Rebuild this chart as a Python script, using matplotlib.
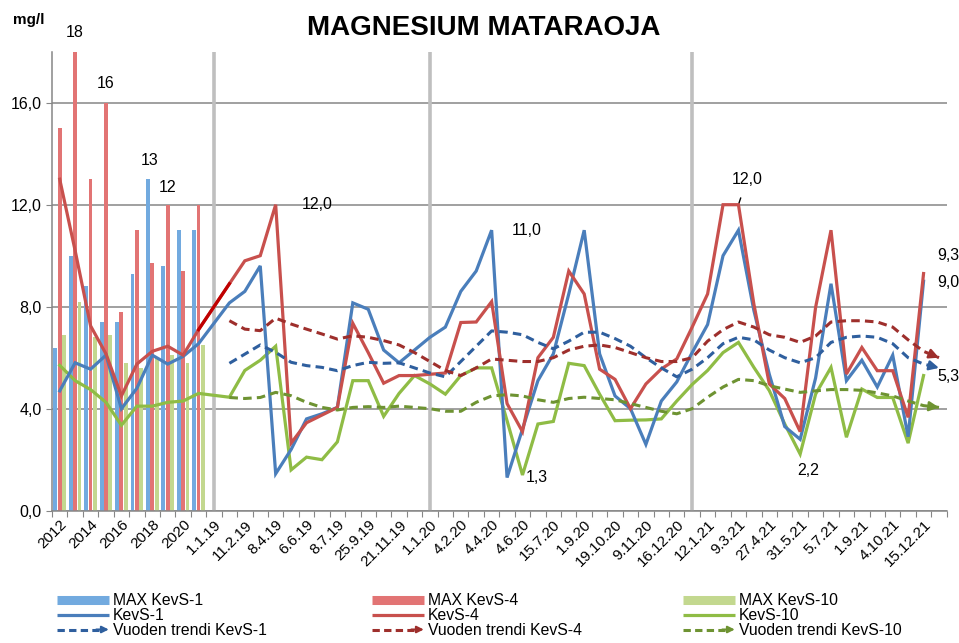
import numpy as np
import matplotlib
matplotlib.use('Agg')
import matplotlib.pyplot as plt
from matplotlib.lines import Line2D
from matplotlib.patches import FancyArrowPatch
from matplotlib.legend_handler import HandlerLine2D

plt.rcParams['font.family'] = ['Liberation Sans', 'DejaVu Sans']

nan = np.nan

# yearly bars (2012-2021)
years = ['2012', '2013', '2014', '2015', '2016', '2017', '2018', '2019', '2020', '2021']
max_kevs1 = [6.4, 10.0, 8.8, 7.4, 7.4, 9.3, 13.0, 9.6, 11.0, 11.0]
max_kevs4 = [15.0, 18.0, 13.0, 16.0, 7.8, 11.0, 9.7, 12.0, 9.4, 12.0]
max_kevs10 = [6.9, 8.2, 6.8, 6.9, 5.8, 5.6, 6.0, 6.1, 5.8, 6.5]

# every second category is labelled
tick_labels = ['2012', '2014', '2016', '2018', '2020', '1.1.19', '11.2.19', '8.4.19',
               '6.6.19', '8.7.19', '25.9.19', '21.11.19', '1.1.20', '4.2.20', '4.4.20',
               '4.6.20', '15.7.20', '1.9.20', '19.10.20', '9.11.20', '16.12.20', '12.1.21',
               '9.3.21', '27.4.21', '31.5.21', '5.7.21', '1.9.21', '4.10.21', '15.12.21']

kevs1 = [4.7, 5.8, 5.55, 6.1, 4.0, 4.8, 6.1, 5.75, 6.05, 6.55,
         nan, 8.15, 8.6, 9.6, 1.45, 2.4, 3.6, 3.8, 4.05, 8.15,
         7.9, 6.3, 5.8, 6.3, 6.8, 7.2, 8.6, 9.4, 11.0, 1.3,
         3.2, 5.1, 6.15, 8.5, 11.0, 6.15, 4.5, 4.0, 2.6, 4.3,
         5.05, 6.2, 7.3, 10.0, 11.0, 7.85, 5.35, 3.3, 2.8, 5.2,
         8.9, 5.1, 5.9, 4.85, 6.1, 2.9, 9.0, nan]

kevs4 = [13.0, 10.2, 7.25, 6.15, 4.5, 5.75, 6.25, 6.45, 6.1, 7.1,
         nan, 8.9, 9.8, 10.0, 12.0, 2.65, 3.45, 3.75, 4.05, 7.35,
         6.2, 5.0, 5.3, 5.3, 5.35, 5.4, 7.38, 7.4, 8.2, 4.2,
         3.1, 6.0, 6.8, 9.4, 8.5, 5.55, 5.15, 4.0, 4.97, 5.56,
         5.95, 7.2, 8.5, 12.0, 12.0, 8.1, 4.97, 4.4, 3.1, 7.97,
         11.0, 5.36, 6.4, 5.49, 5.49, 3.66, 9.3, nan]

kevs10 = [5.7, 5.1, 4.75, 4.25, 3.35, 4.1, 4.1, 4.25, 4.3, 4.6,
          nan, 4.45, 5.5, 5.9, 6.45, 1.6, 2.1, 2.0, 2.7, 5.1,
          5.1, 3.7, 4.6, 5.3, 4.97, 4.57, 5.3, 5.6, 5.6, 3.53,
          1.4, 3.4, 3.5, 5.78, 5.69, 4.57, 3.53, 3.55, 3.56, 3.6,
          4.3, 4.95, 5.5, 6.2, 6.6, 5.62, 4.71, 3.4, 2.22, 4.57,
          5.62, 2.88, 4.77, 4.44, 4.44, 2.65, 5.3, nan]

no_trend = [nan, nan, nan, nan, nan, nan, nan, nan, nan, nan, nan]

trend1 = no_trend + [5.78, 6.14, 6.5, 6.21, 5.82, 5.69, 5.62, 5.49, 5.69,
                     5.82, 5.78, 5.8, 5.6, 5.4, 5.25, 5.85, 6.45, 7.05, 7.0,
                     6.9, 6.6, 6.35, 6.65, 7.0, 7.0, 6.75, 6.45, 6.0, 5.6,
                     5.25, 5.55, 6.0, 6.55, 6.8, 6.7, 6.3, 6.0, 5.8, 6.0,
                     6.6, 6.8, 6.85, 6.8, 6.55, 6.0, 5.75, 5.6]

trend4 = no_trend + [7.45, 7.12, 7.06, 7.55, 7.32, 7.12, 6.93, 6.73, 6.86,
                     6.8, 6.67, 6.5, 6.2, 5.85, 5.5, 5.3, 5.6, 5.95, 5.9,
                     5.85, 5.85, 6.0, 6.3, 6.45, 6.5, 6.4, 6.2, 6.0, 5.85,
                     5.85, 6.0, 6.65, 7.1, 7.4, 7.2, 6.9, 6.8, 6.6, 6.85,
                     7.4, 7.45, 7.45, 7.4, 7.2, 6.7, 6.25, 6.0]

trend10 = no_trend + [4.44, 4.4, 4.44, 4.64, 4.51, 4.25, 4.05, 3.95, 4.05,
                      4.08, 4.05, 4.1, 4.05, 4.0, 3.9, 3.9, 4.25, 4.5, 4.55,
                      4.5, 4.35, 4.25, 4.4, 4.45, 4.4, 4.35, 4.2, 4.05, 3.9,
                      3.8, 4.0, 4.45, 4.85, 5.15, 5.1, 4.9, 4.77, 4.64, 4.7,
                      4.75, 4.75, 4.72, 4.62, 4.5, 4.3, 4.12, 4.05]

year_starts = [10, 24, 41]  # 1.1.19, 1.1.20, 1.1.21

c_bar = ['#72aadf', '#e27474', '#c3d88f']
c_line = ['#4a7ebb', '#c8504d', '#8fbc45']
c_trend = ['#2f5f9e', '#9e2f2c', '#6e9332']


class ArrowHandler(HandlerLine2D):
    def create_artists(self, legend, orig, xdescent, ydescent, width, height, fontsize, trans):
        y = height / 2 - ydescent
        x0, x1 = -xdescent, width - xdescent
        line = Line2D([x0, x1 - 7], [y, y], color=orig.get_color(),
                      lw=orig.get_linewidth(), dashes=(2.4, 1.4))
        head = FancyArrowPatch((x1 - 9, y), (x1, y), arrowstyle='-|>', mutation_scale=10,
                               color=orig.get_color(), lw=1.5, shrinkA=0, shrinkB=0)
        line.set_transform(trans)
        head.set_transform(trans)
        return [line, head]


def fmt(v):
    return ('%.1f' % v).replace('.', ',')


fig = plt.figure(figsize=(9.59, 6.43), dpi=100)
ax = fig.add_axes([52 / 959, 1 - 510.7 / 643, (946.7 - 52) / 959, 459 / 643])

n = len(kevs1)
x = np.arange(n)

ax.set_xlim(-0.5, n - 0.5)
ax.set_ylim(0, 18)
ax.set_yticks([0, 4, 8, 12, 16])
ax.set_yticklabels(['0,0', '4,0', '8,0', '12,0', '16,0'], fontsize=11.5)
ax.yaxis.grid(True, color='#868686', lw=1.1, zorder=0)
ax.set_axisbelow(True)
for s in ['top', 'right']:
    ax.spines[s].set_visible(False)
for s in ['left', 'bottom']:
    ax.spines[s].set_color('#868686')
    ax.spines[s].set_linewidth(1.1)

ax.set_xticks(np.arange(-0.5, n, 1))
ax.set_xticklabels([])
ax.set_xticks(np.arange(0, n, 2), tick_labels, minor=True)
ax.tick_params(axis='x', which='major', length=4, color='#868686')
ax.tick_params(axis='x', which='minor', length=0, pad=5, labelsize=11)
ax.tick_params(axis='y', length=4, color='#868686')
for lab in ax.get_xticklabels(minor=True):
    lab.set_rotation(45)
    lab.set_ha('right')
    lab.set_va('top')
    lab.set_rotation_mode('anchor')

for k in year_starts:
    ax.axvline(k, color='#bfbfbf', lw=2.6, zorder=1)

xb = np.arange(len(years))
ax.bar(xb - 0.28, max_kevs1, width=0.25, color=c_bar[0], zorder=2)
ax.bar(xb, max_kevs4, width=0.25, color=c_bar[1], zorder=2)
ax.bar(xb + 0.28, max_kevs10, width=0.25, color=c_bar[2], zorder=2)

for ys, c in zip([kevs10, kevs1, kevs4], [c_line[2], c_line[0], c_line[1]]):
    y = np.array(ys)
    m = ~np.isnan(y)
    ax.plot(x[m], y[m], color=c, lw=2.3, zorder=4, solid_joinstyle='miter')

# darker red piece where KevS-4 crosses the empty category
ax.plot([9, 11], [kevs4[9], kevs4[11]], color='#c00000', lw=2.3, zorder=4)

for ys, c in zip([trend10, trend1, trend4], [c_trend[2], c_trend[0], c_trend[1]]):
    y = np.array(ys)
    m = ~np.isnan(y)
    ax.plot(x[m], y[m], color=c, lw=2.2, dashes=(2.8, 1.7), zorder=5)
    ax.annotate('', xy=(x[-1], y[-1]), xytext=(x[-1] - 0.6, y[-1] - 0.6 * (y[-1] - y[-2])),
                arrowprops=dict(arrowstyle='-|>', color=c, lw=1.8, mutation_scale=14,
                                shrinkA=0, shrinkB=0), zorder=5)

# value labels
lab_kw = dict(textcoords='offset points', fontsize=11.5, ha='center', va='center')
ax.annotate('18', xy=(1, max_kevs4[1]), xytext=(0, 13.5), **lab_kw)
ax.annotate('16', xy=(3, max_kevs4[3]), xytext=(0, 14), **lab_kw)
ax.annotate('13', xy=(6 - 0.28, max_kevs1[6]), xytext=(1, 13.5), **lab_kw)
ax.annotate('12', xy=(7, max_kevs4[7]), xytext=(0, 12.5), **lab_kw)
ax.annotate(fmt(kevs4[14]), xy=(14, kevs4[14]), xytext=(30, 0), **lab_kw)
ax.annotate(fmt(kevs1[28]), xy=(28, kevs1[28]), xytext=(25, 0), **lab_kw)
ax.annotate(fmt(kevs1[29]), xy=(29, kevs1[29]), xytext=(21.5, 0), **lab_kw)
ax.annotate(fmt(kevs4[44]), xy=(44, kevs4[44]), xytext=(6, 18), **lab_kw,
            arrowprops=dict(arrowstyle='-', color='black', lw=1, shrinkA=6, shrinkB=0))
ax.annotate(fmt(kevs10[48]), xy=(48, kevs10[48]), xytext=(6, -11.5), **lab_kw)
end_kw = dict(textcoords='offset points', fontsize=11.5, ha='left', va='center',
              annotation_clip=False)
ax.annotate(fmt(kevs4[56]), xy=(56, kevs4[56]), xytext=(10, 13), **end_kw)
ax.annotate(fmt(kevs1[56]), xy=(56, kevs1[56]), xytext=(10, -1), **end_kw)
ax.annotate(fmt(kevs10[56]), xy=(56, kevs10[56]), xytext=(10, -1), **end_kw)

fig.text(0.504, 1 - 28 / 643, 'MAGNESIUM MATARAOJA', ha='center', va='center',
         fontsize=20, fontweight='bold')
fig.text(13 / 959, 1 - 20 / 643, 'mg/l', ha='left', va='center', fontsize=11, fontweight='bold')

# legend: three columns placed like the original
names = ['KevS-1', 'KevS-4', 'KevS-10']
col_x = [57, 372, 683]
for i in range(3):
    h_max = Line2D([], [], color=c_bar[i], lw=6.5, solid_capstyle='butt')
    h_line = Line2D([], [], color=c_line[i], lw=2.3, solid_capstyle='butt')
    h_tr = Line2D([], [], color=c_trend[i], lw=2.2)
    fig.legend([h_max, h_line, h_tr],
               ['MAX ' + names[i], names[i], 'Vuoden trendi ' + names[i]],
               loc='upper left', bbox_to_anchor=(col_x[i] / 959, 1 - 593 / 643),
               frameon=False, borderpad=0, borderaxespad=0, fontsize=11.3,
               handlelength=3.3, handletextpad=0.25, labelspacing=0.0,
               handler_map={h_tr: ArrowHandler()})

fig.savefig('out.png', dpi=100)
